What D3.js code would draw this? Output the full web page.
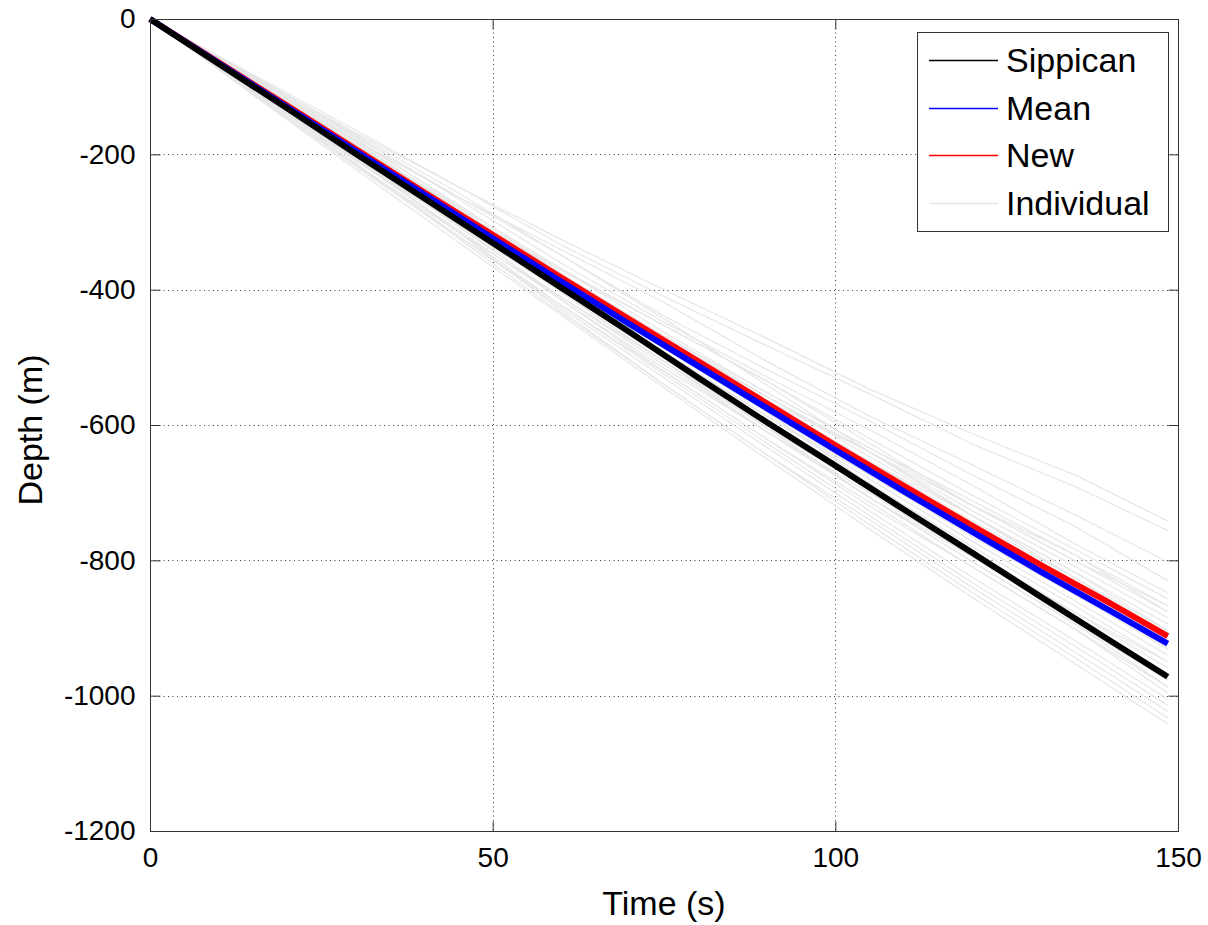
<!DOCTYPE html>
<html>
<head>
<meta charset="utf-8">
<script src="https://d3js.org/d3.v7.min.js"></script>
<style>
body { margin: 0; background: #fff; }
text { font-family: "Liberation Sans", Arial, Helvetica, sans-serif; fill: #000; }
</style>
</head>
<body>
<script>
//time steps (s) for the three main curves
var timeMain = [0, 10, 20, 30, 40, 50, 60, 70, 80, 90, 100, 110, 120, 130, 140, 148.5];

//depth (m) of each main curve
var sippican = [0, -66, -132, -199, -265, -331, -397, -463, -530, -596, -660, -725, -789, -854, -918, -972];
var meanFall = [0, -65, -130, -195, -259, -324, -388, -451, -513, -575, -637, -698, -758, -817, -874, -923];
var newFall  = [0, -64, -128, -192, -256, -319, -382, -444, -506, -568, -630, -690, -749, -807, -863, -912];

//time steps (s) for the individual drops
var timeInd = [0, 15, 30, 45, 60, 75, 90, 105, 120, 135, 148.5];

//depth (m) of each individual drop
var individual = [
    [0, -82, -164, -248, -326, -400, -472, -547, -613, -674, -742],
    [0, -85, -168, -248, -334, -410, -483, -554, -628, -691, -756],
    [0, -87, -174, -263, -341, -419, -506, -587, -659, -733, -802],
    [0, -92, -179, -263, -349, -439, -518, -594, -674, -750, -830],
    [0, -83, -172, -266, -361, -448, -529, -607, -689, -776, -848],
    [0, -102, -199, -286, -369, -453, -535, -620, -704, -784, -857],
    [0, -89, -185, -283, -372, -453, -535, -627, -719, -801, -867],
    [0, -94, -187, -277, -369, -463, -552, -634, -712, -792, -876],
    [0, -87, -179, -274, -376, -472, -558, -640, -727, -809, -885],
    [0, -97, -193, -286, -376, -468, -558, -647, -734, -818, -894],
    [0, -105, -205, -298, -384, -472, -564, -654, -734, -818, -904],
    [0, -90, -183, -280, -384, -482, -569, -654, -742, -826, -913],
    [0, -93, -191, -292, -392, -482, -569, -660, -749, -835, -913],
    [0, -99, -197, -292, -384, -477, -575, -667, -757, -843, -922],
    [0, -85, -176, -277, -388, -492, -587, -674, -757, -843, -931],
    [0, -107, -209, -304, -396, -487, -581, -674, -765, -851, -931],
    [0, -95, -195, -298, -400, -492, -587, -680, -772, -860, -940],
    [0, -101, -203, -301, -400, -496, -592, -687, -780, -868, -950],
    [0, -91, -189, -295, -404, -506, -604, -694, -787, -877, -959],
    [0, -109, -215, -315, -411, -506, -598, -694, -787, -885, -968],
    [0, -98, -201, -307, -411, -511, -610, -700, -795, -885, -977],
    [0, -103, -209, -312, -415, -516, -610, -707, -802, -894, -977],
    [0, -94, -195, -304, -415, -521, -621, -720, -810, -902, -987],
    [0, -111, -218, -321, -423, -521, -621, -714, -810, -902, -996],
    [0, -100, -207, -315, -423, -525, -627, -727, -825, -919, -1005],
    [0, -105, -213, -321, -427, -530, -633, -734, -833, -927, -1014],
    [0, -97, -203, -315, -431, -540, -644, -740, -840, -936, -1023],
    [0, -112, -222, -330, -438, -545, -650, -754, -855, -953, -1042],
    [0, -109, -215, -324, -435, -540, -644, -747, -848, -944, -1033],
    [0, -87, -181, -283, -388, -477, -558, -640, -734, -826, -904],
    [0, -103, -201, -292, -380, -468, -552, -634, -719, -792, -867],
    [0, -92, -187, -289, -396, -501, -604, -707, -802, -894, -987],
    [0, -106, -207, -304, -404, -506, -610, -707, -795, -877, -950],
    [0, -84, -170, -257, -349, -443, -541, -640, -734, -826, -913],
    [0, -100, -199, -298, -392, -482, -564, -640, -719, -801, -876],
    [0, -96, -189, -280, -376, -477, -581, -687, -787, -885, -968]
];

//tick values
var xTicks = [0, 50, 100, 150];
var yTicks = [0, -200, -400, -600, -800, -1000, -1200];

//legend entries
var legendItems = [
    {name: "Sippican", color: "#000000"},
    {name: "Mean", color: "#0000ff"},
    {name: "New", color: "#ff0000"},
    {name: "Individual", color: "#e6e6e6"}
];

//Width and height
var w = 1208;
var h = 925;
var padLeft = 150, padRight = 1178, padTop = 19, padBottom = 831;

//create SVG element
var svg = d3.select("body")
            .append("svg")
            .attr("width", w)
            .attr("height", h);

//scales for x and y axis values
var xScale = d3.scaleLinear()
            .domain([0, 150])
            .range([padLeft, padRight]);

var yScale = d3.scaleLinear()
            .domain([-1200, 0])
            .range([padBottom, padTop]);

//dotted grid
var grid = svg.append("g")
    .attr("stroke", "#3a3a3a")
    .attr("stroke-width", 1)
    .attr("stroke-dasharray", "1,3.5");

grid.selectAll(".gx")
    .data(xTicks.slice(1, -1))
    .enter()
    .append("line")
    .attr("x1", function(d){ return Math.round(xScale(d)) + 0.5; })
    .attr("x2", function(d){ return Math.round(xScale(d)) + 0.5; })
    .attr("y1", padTop)
    .attr("y2", padBottom);

grid.selectAll(".gy")
    .data(yTicks.slice(1, -1))
    .enter()
    .append("line")
    .attr("y1", function(d){ return Math.round(yScale(d)) + 0.5; })
    .attr("y2", function(d){ return Math.round(yScale(d)) + 0.5; })
    .attr("x1", padLeft)
    .attr("x2", padRight);

//line generators
var indLine = d3.line()
    .x(function(d, i){ return xScale(timeInd[i]); })
    .y(function(d){ return yScale(d); });

var mainLine = d3.line()
    .x(function(d, i){ return xScale(timeMain[i]); })
    .y(function(d){ return yScale(d); });

//individual drops
svg.append("g")
    .selectAll("path")
    .data(individual)
    .enter()
    .append("path")
    .attr("d", indLine)
    .attr("fill", "none")
    .attr("stroke", "#e6e6e6")
    .attr("stroke-width", 1.2);

//new, mean and sippican curves
var mains = [[newFall, "#ff0000"], [meanFall, "#0000ff"], [sippican, "#000000"]];
mains.forEach(function(m){
    svg.append("path")
        .attr("d", mainLine(m[0]))
        .attr("fill", "none")
        .attr("stroke", m[1])
        .attr("stroke-width", 6);
});

//axes box
svg.append("rect")
    .attr("x", padLeft + 0.5)
    .attr("y", padTop + 0.5)
    .attr("width", padRight - padLeft)
    .attr("height", padBottom - padTop)
    .attr("fill", "none")
    .attr("stroke", "#333")
    .attr("stroke-width", 1);

//plain labels with a hyphen minus
var fmt = function(d){ return String(d); };

//create X axis (ticks inside, bottom and top)
svg.append("g")
    .attr("transform", "translate(0," + (padBottom + 0.5) + ")")
    .call(d3.axisBottom(xScale).tickValues(xTicks).tickSize(-10).tickPadding(16).tickFormat(fmt))
    .call(function(g){ g.select(".domain").remove(); });

svg.append("g")
    .attr("transform", "translate(0," + (padTop + 0.5) + ")")
    .call(d3.axisTop(xScale).tickValues(xTicks).tickSize(-10).tickFormat(""))
    .call(function(g){ g.select(".domain").remove(); });

//create Y axis (ticks inside, left and right)
svg.append("g")
    .attr("transform", "translate(" + (padLeft + 0.5) + ",0)")
    .call(d3.axisLeft(yScale).tickValues(yTicks).tickSize(-10).tickPadding(15).tickFormat(fmt))
    .call(function(g){ g.select(".domain").remove(); });

svg.append("g")
    .attr("transform", "translate(" + (padRight + 0.5) + ",0)")
    .call(d3.axisRight(yScale).tickValues(yTicks).tickSize(-10).tickFormat(""))
    .call(function(g){ g.select(".domain").remove(); });

svg.selectAll(".tick line").attr("stroke", "#333");
svg.selectAll(".tick text")
    .attr("font-size", 28)
    .attr("font-family", "Liberation Sans, Arial, sans-serif")
    .attr("fill", "#000");

//label for X axis
svg.append("text")
    .attr("x", (padLeft + padRight) / 2)
    .attr("y", 915)
    .attr("text-anchor", "middle")
    .attr("font-size", 34)
    .text("Time (s)");

//label for Y axis
svg.append("text")
    .attr("transform", "translate(42," + 430 + ") rotate(-90)")
    .attr("text-anchor", "middle")
    .attr("font-size", 34)
    .text("Depth (m)");

//legend
var legend = svg.append("g");

legend.append("rect")
    .attr("x", 917.5)
    .attr("y", 32.5)
    .attr("width", 251)
    .attr("height", 199)
    .attr("fill", "#fff")
    .attr("stroke", "#333");

var rows = legend.selectAll(".row")
    .data(legendItems)
    .enter()
    .append("g")
    .attr("class", "row")
    .attr("transform", function(d, i){ return "translate(0," + Math.round(60 + i * 47.5) + ")"; });

rows.append("line")
    .attr("x1", 929)
    .attr("x2", 998)
    .attr("y1", 0.5)
    .attr("y2", 0.5)
    .style("stroke", function(d){ return d.color; })
    .attr("stroke-width", 1.5);

rows.append("text")
    .attr("x", 1006)
    .attr("y", 12)
    .attr("font-size", 34)
    .text(function(d){ return d.name; });
</script>
</body>
</html>
